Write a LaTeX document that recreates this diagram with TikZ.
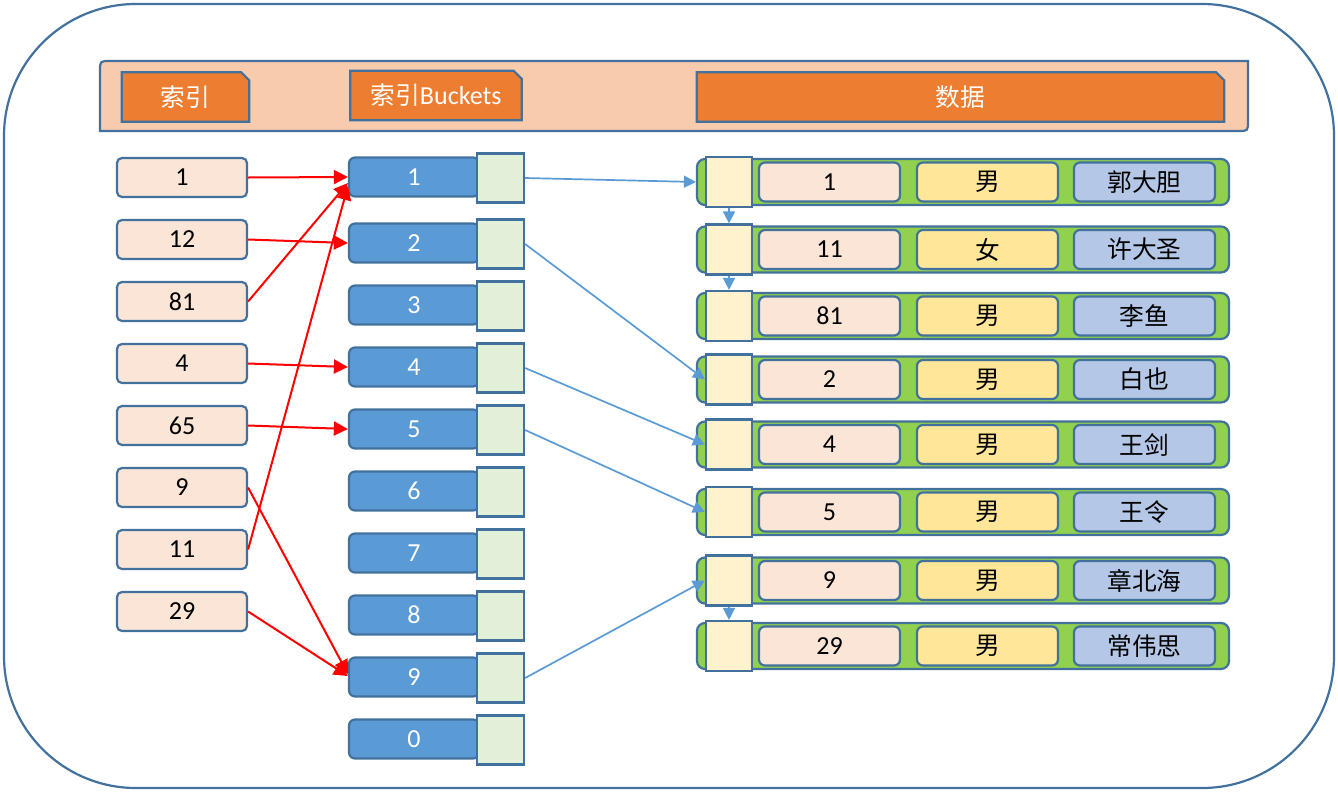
\documentclass[tikz,border=0pt]{standalone}
\usepackage{fontspec}
\setmainfont{Carlito}
\newfontfamily\cjk{Noto Sans CJK SC}[Scale=0.95]
\usetikzlibrary{arrows.meta,backgrounds}

\definecolor{edge}{HTML}{41719C}
\definecolor{keyfill}{HTML}{FBE5D6}
\definecolor{bucketfill}{HTML}{5B9BD5}
\definecolor{slotfill}{HTML}{E2F0D9}
\definecolor{barfill}{HTML}{92D050}
\definecolor{nextfill}{HTML}{FFF2CC}
\definecolor{sexfill}{HTML}{FFE699}
\definecolor{namefill}{HTML}{B4C7E7}
\definecolor{bandfill}{HTML}{F8CBAD}
\definecolor{tabfill}{HTML}{ED7D31}
\definecolor{hashred}{HTML}{FF0000}
\definecolor{linkblue}{HTML}{5B9BD5}

\tikzset{
  txt/.style={font=\fontsize{26}{30}\selectfont},
  cell/.style={txt, draw=edge, line width=2.2pt, rounded corners=6pt, inner sep=0pt,
               minimum height=39pt, anchor=center},
  keybox/.style={cell, fill=keyfill, minimum width=130pt, rounded corners=5pt},
  bucket/.style={cell, fill=bucketfill, text=white, minimum width=130pt},
  slot/.style={draw=edge, line width=2.2pt, fill=slotfill, minimum width=47pt, minimum height=49pt, inner sep=0pt},
  bar/.style={draw=edge, line width=2.2pt, fill=barfill, rounded corners=8pt, minimum width=532pt, minimum height=46pt, inner sep=0pt},
  nextbox/.style={draw=edge, line width=2.2pt, fill=nextfill, minimum width=46pt, minimum height=50pt, inner sep=0pt},
  idcell/.style={cell, fill=keyfill, minimum width=141pt},
  sexcell/.style={cell, fill=sexfill, minimum width=141pt},
  namecell/.style={cell, fill=namefill, minimum width=141pt},
  tab/.style={txt, text=white, inner sep=0pt, minimum height=49pt},
  tabshape/.style={draw=edge, line width=2.2pt, fill=tabfill},
  hasharrow/.style={draw=hashred, line width=2pt, -{Triangle[length=14pt,width=14pt]}},
  linkarrow/.style={draw=linkblue, line width=1.7pt, -{Triangle[length=12pt,width=12pt]}},
}

\begin{document}
\begin{tikzpicture}[x=1pt,y=-1pt]
\useasboundingbox (0,0) rectangle (1338,793);

% column headers
\node[tab, minimum width=127pt] (h1) at (185.5,97) {{\cjk 索引}};
\node[tab, minimum width=171pt] (h2) at (436,95.5) {{\cjk 索引}Buckets};
\node[tab, minimum width=527pt] (h3) at (960.5,97) {{\cjk 数据}};

\begin{scope}[on background layer]
  % outer frame
  \draw[edge, line width=2.2pt, rounded corners=132pt] (4,4) rectangle (1334,788);
  % header band: top-left and bottom-right corners rounded
  \draw[draw=edge, line width=2.2pt, fill=bandfill]
    (100,131) -- (100,71) .. controls (100,61) .. (110,61) -- (1248,61)
    -- (1248,121) .. controls (1248,131) .. (1238,131) -- cycle;
  \foreach \h in {h1,h2,h3}
    \draw[tabshape] (\h.south west) -- (\h.north west) -- ([xshift=-8pt]\h.north east)
      -- ([yshift=-8pt]\h.north east) -- (\h.south east) -- cycle;
\end{scope}

% index keys
\foreach \lab [count=\i] in {1,12,81,4,65,9,11,29}
  \node[keybox] (k\i) at (182,{177.5+62*(\i-1)}) {\lab};

% buckets with their slot pointers
\foreach \lab/\yy [count=\i] in {1/177,2/243,3/305,4/367,5/429,6/491,7/553,8/615,9/677,0/739}{
  \node[bucket] (b\i) at (414,\yy) {\lab};
  \node[slot] (s\i) at (500.5,{\yy+1}) {};
}

% data records
\foreach \yy/\num/\sex/\who [count=\i] in {182/1/男/郭大胆,249.5/11/女/许大圣,316/81/男/李鱼,379.5/2/男/白也,444.5/4/男/王剑,512/5/男/王令,580.5/9/男/章北海,646/29/男/常伟思}{
  \node[bar] (r\i) at (963,\yy) {};
  \node[nextbox] (n\i) at (729,\yy) {};
  \node[idcell] (ci\i) at (829.5,\yy) {\num};
  \node[sexcell] (cs\i) at (987.5,\yy) {{\cjk \sex}};
  \node[namecell] (cn\i) at (1144.5,\yy) {{\cjk \who}};
}

% hashing keys into buckets
\draw[hasharrow] (k1.east) -- (b1.west);
\draw[hasharrow] (k2.east) -- (b2.west);
\draw[hasharrow] (k3.east) -- ([yshift=-6pt]b1.west);
\draw[hasharrow] (k4.east) -- (b4.west);
\draw[hasharrow] (k5.east) -- (b5.west);
\draw[hasharrow] (k6.east) -- ([yshift=3pt]b9.west);
\draw[hasharrow] (k7.east) -- ([yshift=-9pt]b1.west);
\draw[hasharrow] (k8.east) -- ([yshift=1pt]b9.west);

% bucket slots pointing at records
\draw[linkarrow] (s1.east) -- (r1.west);
\draw[linkarrow] (s2.east) -- (n4.west);
\draw[linkarrow] (s4.east) -- (n5.west);
\draw[linkarrow] (s5.east) -- (n6.west);
\draw[linkarrow] (s9.east) -- (n7.west);

% chained records within a bucket
\draw[linkarrow] (n1.south) -- (n2.north);
\draw[linkarrow] (n2.south) -- (n3.north);
\draw[linkarrow] (n7.south) -- (n8.north);
\end{tikzpicture}
\end{document}
